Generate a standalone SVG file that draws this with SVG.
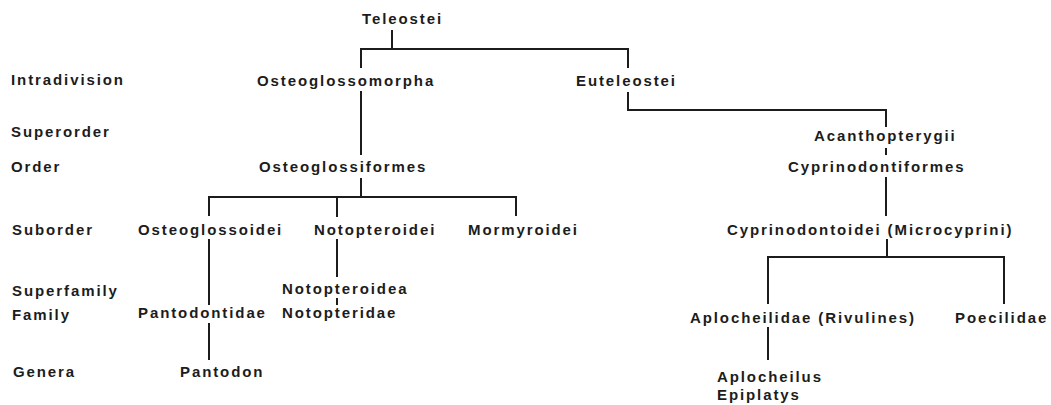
<svg xmlns="http://www.w3.org/2000/svg" width="1051" height="405" viewBox="0 0 1051 405">
<style>
text{font-family:"Liberation Sans",Arial,sans-serif;font-size:15px;font-weight:bold;letter-spacing:1.9px;fill:#1c1c1c}
.c path{fill:none;stroke:#1c1c1c;stroke-width:2}
</style>
<rect width="1051" height="405" fill="#fff"/>
<g id="ranks">
<text x="11" y="85">Intradivision</text>
<text x="11" y="137">Superorder</text>
<text x="11" y="172">Order</text>
<text x="12" y="235">Suborder</text>
<text x="12" y="296">Superfamily</text>
<text x="12" y="320">Family</text>
<text x="13" y="377">Genera</text>
</g>
<g class="c" id="connectors">
<path d="M392 30V49"/>
<path d="M361 68V49H628V68"/>
<path d="M361 91V155"/>
<path d="M361 178V197"/>
<path d="M209 216V197H516V216"/>
<path d="M337 197V217"/>
<path d="M209 239V305"/>
<path d="M209 323V360"/>
<path d="M337 239V277"/>
<path d="M337 298V305"/>
<path d="M628 92V110H886V127"/>
<path d="M886 148V155"/>
<path d="M886 177V216"/>
<path d="M887 239V257"/>
<path d="M768 304V257H1004V304"/>
<path d="M768 327V360"/>
</g>
<g id="teleostei"><text x="362" y="24">Teleostei</text></g>
<g id="osteoglossomorpha"><text x="257" y="86">Osteoglossomorpha</text></g>
<g id="euteleostei"><text x="576" y="86">Euteleostei</text></g>
<g id="acanthopterygii"><text x="814" y="141">Acanthopterygii</text></g>
<g id="cyprinodontiformes"><text x="788" y="172">Cyprinodontiformes</text></g>
<g id="osteoglossiformes"><text x="259" y="172">Osteoglossiformes</text></g>
<g id="osteoglossoidei"><text x="138" y="235">Osteoglossoidei</text></g>
<g id="notopteroidei"><text x="314" y="235">Notopteroidei</text></g>
<g id="mormyroidei"><text x="468" y="235">Mormyroidei</text></g>
<g id="cyprinodontoidei"><text x="727" y="235">Cyprinodontoidei (Microcyprini)</text></g>
<g id="notopteroidea"><text x="282" y="294">Notopteroidea</text></g>
<g id="notopteridae"><text x="282" y="318">Notopteridae</text></g>
<g id="pantodontidae"><text x="138" y="318">Pantodontidae</text></g>
<g id="pantodon"><text x="180" y="377">Pantodon</text></g>
<g id="aplocheilidae"><text x="690" y="323">Aplocheilidae (Rivulines)</text></g>
<g id="poecilidae"><text x="955" y="323">Poecilidae</text></g>
<g id="aplocheilus"><text x="717" y="382">Aplocheilus</text><text x="717" y="400">Epiplatys</text></g>
</svg>
